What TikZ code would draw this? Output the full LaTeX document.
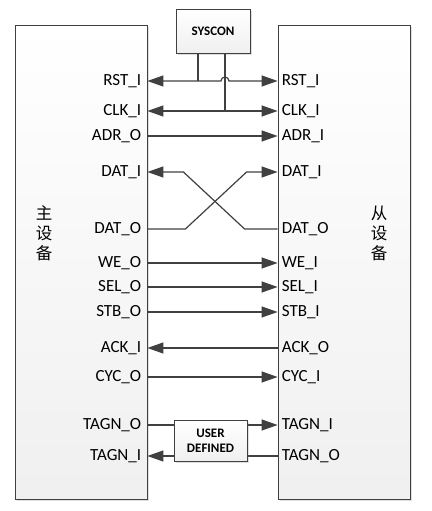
\documentclass[tikz,border=0pt]{standalone}
\usepackage{fontspec}
\setmainfont{Carlito}
\newfontfamily\cjk{Noto Sans CJK SC}
\usepackage{xcolor}
\usepackage{tikz}
\usetikzlibrary{positioning,arrows.meta,calc,shadows}
\definecolor{wire}{HTML}{404040}
\tikzset{
  blk/.style={draw=wire,line width=0.8pt,top color=white,bottom color=gray!12,inner sep=0pt,
    drop shadow={shadow xshift=2pt,shadow yshift=-2pt,opacity=0.25,fill=gray}},
  tag/.style={blk,font=\fontsize{13}{15}\selectfont\bfseries,align=center},
  port/.style={inner ysep=0pt,font=\fontsize{17}{19}\selectfont},
  mp/.style={port,anchor=east,inner xsep=6pt},
  sp/.style={port,anchor=west,inner xsep=4pt},
  dev/.style={font=\cjk\fontsize{16.5}{20}\selectfont,align=center},
  sig/.style={draw=wire,line width=1.2pt},
}
\begin{document}
\begin{tikzpicture}[x=1pt,y=1pt,>={Triangle[length=16pt,width=11pt]}]
  \useasboundingbox (0,0) rectangle (431,511);
  % the two devices
  \node[blk,minimum width=132pt,minimum height=474pt] (mst) at (81,249) {};
  \node[blk,minimum width=132pt,minimum height=474pt] (slv) at (344,249) {};
  \node[dev] (mname) at (44,278) {主\\设\\备};
  \node[dev] (sname) at (379,278) {从\\设\\备};
  \node[tag,minimum width=74pt,minimum height=44pt] (sys) at (213,480) {SYSCON};

  % master ports
  \node[mp] (mRST) at (mst.east |- 0,430) {RST\_I};
  \node[mp] (mCLK) at (mst.east |- 0,400) {CLK\_I};
  \node[mp] (mADR) at (mst.east |- 0,375) {ADR\_O};
  \node[mp] (mDATI) at (mst.east |- 0,339) {DAT\_I};
  \node[mp] (mDATO) at (mst.east |- 0,282) {DAT\_O};
  \node[mp] (mWE) at (mst.east |- 0,248) {WE\_O};
  \node[mp] (mSEL) at (mst.east |- 0,224) {SEL\_O};
  \node[mp] (mSTB) at (mst.east |- 0,199) {STB\_O};
  \node[mp] (mACK) at (mst.east |- 0,163) {ACK\_I};
  \node[mp] (mCYC) at (mst.east |- 0,134) {CYC\_O};
  \node[mp] (mTGO) at (mst.east |- 0,86) {TAGN\_O};
  \node[mp] (mTGI) at (mst.east |- 0,55) {TAGN\_I};

  % slave ports
  \node[sp] (sRST) at (slv.west |- 0,430) {RST\_I};
  \node[sp] (sCLK) at (slv.west |- 0,400) {CLK\_I};
  \node[sp] (sADR) at (slv.west |- 0,375) {ADR\_I};
  \node[sp] (sDATI) at (slv.west |- 0,339) {DAT\_I};
  \node[sp] (sDATO) at (slv.west |- 0,282) {DAT\_O};
  \node[sp] (sWE) at (slv.west |- 0,248) {WE\_I};
  \node[sp] (sSEL) at (slv.west |- 0,224) {SEL\_I};
  \node[sp] (sSTB) at (slv.west |- 0,199) {STB\_I};
  \node[sp] (sACK) at (slv.west |- 0,163) {ACK\_O};
  \node[sp] (sCYC) at (slv.west |- 0,134) {CYC\_I};
  \node[sp] (sTGI) at (slv.west |- 0,86) {TAGN\_I};
  \node[sp] (sTGO) at (slv.west |- 0,55) {TAGN\_O};

  % syscon taps
  \coordinate (sysa) at ($(sys.south west)!0.3!(sys.south east)$);
  \coordinate (sysb) at ($(sys.south west)!0.66!(sys.south east)$);
  \coordinate (hop) at (sysb |- mRST.east);
  \draw[sig,<->] (mRST.east) -- ($(hop)+(-4,0)$) arc[start angle=180,end angle=0,radius=4pt] -- (sRST.west);
  \draw[sig,<->] (mCLK.east) -- (sCLK.west);
  \draw[sig] (sysa) -- (sysa |- mRST.east);
  \draw[sig] (sysb) -- (sysb |- mCLK.east);

  \draw[sig,->] (mADR.east) -- (sADR.west);
  \draw[sig,->] (sDATO.west) -- ++(-33,0) -- ($(mDATI.east)+(36,0)$) -- (mDATI.east);
  \draw[sig,->] (mDATO.east) -- ++(38,0) -- ($(sDATI.west)+(-31,0)$) -- (sDATI.west);
  \draw[sig,->] (mWE.east) -- (sWE.west);
  \draw[sig,->] (mSEL.east) -- (sSEL.west);
  \draw[sig,->] (mSTB.east) -- (sSTB.west);
  \draw[sig,->] (sACK.west) -- (mACK.east);
  \draw[sig,->] (mCYC.east) -- (sCYC.west);
  \draw[sig,->] (mTGO.east) -- (sTGI.west);
  \draw[sig,->] (sTGO.west) -- (mTGI.east);
  \node[tag,minimum width=73pt,minimum height=41pt] (usr) at (210.5,70.5) {USER\\DEFINED};
\end{tikzpicture}
\end{document}
